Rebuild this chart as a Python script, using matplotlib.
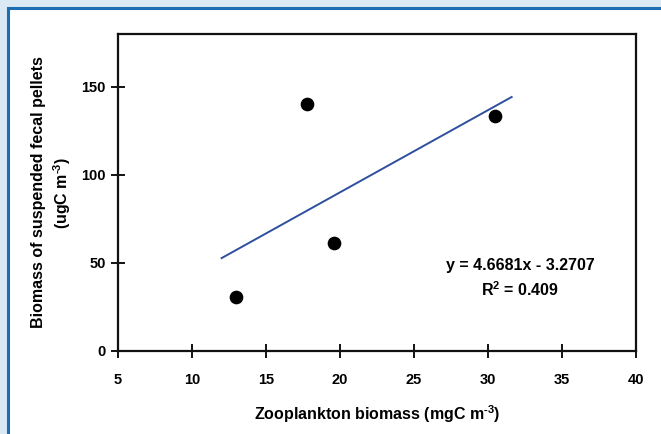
import numpy as np
import matplotlib.pyplot as plt
from matplotlib.patches import Rectangle

plt.rcParams['font.family'] = ['Liberation Sans', 'DejaVu Sans']
plt.rcParams['font.weight'] = 'bold'
plt.rcParams['axes.labelweight'] = 'bold'
plt.rcParams['mathtext.fontset'] = 'custom'
plt.rcParams['mathtext.rm'] = 'Liberation Sans:bold'
plt.rcParams['mathtext.bf'] = 'Liberation Sans:bold'
plt.rcParams['mathtext.default'] = 'bf'

# zooplankton biomass (mgC m-3) vs suspended fecal pellet biomass (ugC m-3)
zoo = [13.0, 17.75, 19.6, 30.5]
pellets = [30.5, 140.0, 61.5, 133.5]

# linear fit as reported
slope = 4.6681
intercept = -3.2707
r2 = 0.409
fit_x = [12.0, 31.6]

xticks = [5, 10, 15, 20, 25, 30, 35, 40]
yticks = [0, 50, 100, 150]

fig = plt.figure(figsize=(6.61, 4.34), dpi=100)
fig.patch.set_facecolor('#dae9f4')
# white panel with a blue frame, cut off on the right and bottom
fig.patches.append(Rectangle((8 / 661, -0.1), 1.2, (434 - 8) / 434 + 0.1,
                             transform=fig.transFigure, facecolor='white',
                             edgecolor='#1c6db3', linewidth=2.2, zorder=-10))

ax = fig.add_axes([118 / 661, 83 / 434, 518 / 661, 317 / 434])
ax.set_zorder(5)

ax.scatter(zoo, pellets, s=78, color='black', zorder=3, clip_on=False)
fx = np.array(fit_x)
ax.plot(fx, slope * fx + intercept, color='#2d4f9e', linewidth=1.4, zorder=2)

ax.text(0.776, 0.27, 'y = %.4fx - %.4f' % (slope, abs(intercept)),
        transform=ax.transAxes, ha='center', va='center', fontsize=11.5)
ax.text(0.776, 0.195, r'R$^{2}$ = %.3f' % r2,
        transform=ax.transAxes, ha='center', va='center', fontsize=11.5)

ax.set_xlim(5, 40)
ax.set_ylim(0, 180)
ax.set_xticks(xticks)
ax.set_yticks(yticks)
ax.tick_params(direction='inout', length=10, width=1.3, labelsize=10.5, colors='black')
ax.tick_params(axis='x', pad=10.5)
ax.tick_params(axis='y', pad=4)
for sp in ax.spines.values():
    sp.set_linewidth(1.6)
    sp.set_color('#111111')

# hyphen rather than a math minus in the unit exponents
ax.set_xlabel(r'Zooplankton biomass (mgC m$^{\text{-3}}$)', fontsize=11.5, va='center')
ax.xaxis.set_label_coords(0.5, -0.2)
ax.set_ylabel('Biomass of suspended fecal pellets\n' + r'(ugC m$^{\text{-3}}$)',
              fontsize=11.5, va='center', linespacing=1.35)
ax.yaxis.set_label_coords(-0.127, 0.5)

fig.savefig('out.png', dpi=100, facecolor=fig.get_facecolor())
